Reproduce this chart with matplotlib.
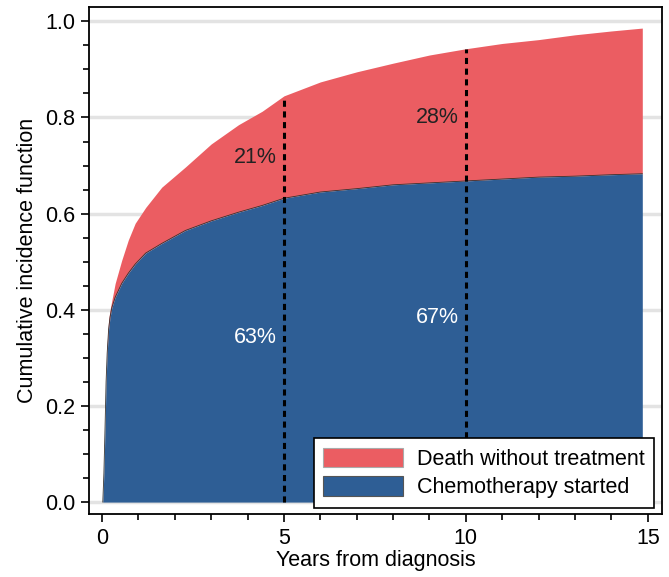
import numpy as np
import matplotlib
matplotlib.use("Agg")
import matplotlib.pyplot as plt
from matplotlib.patches import Patch
from matplotlib.ticker import MultipleLocator

plt.rcParams["font.family"] = ["Liberation Sans", "DejaVu Sans"]

# Cumulative incidence
years = [0.02, 0.05, 0.08, 0.11, 0.14, 0.18, 0.22, 0.27, 0.36, 0.54, 0.72,
         0.91, 1.2, 1.64, 2.29, 3.0, 3.75, 4.4, 5.0, 6.0, 7.0, 8.0, 9.0,
         10.0, 11.0, 12.0, 13.0, 14.0, 14.85]
chemo = [0.0, 0.06, 0.15, 0.25, 0.31, 0.36, 0.385, 0.405, 0.426, 0.455,
         0.476, 0.495, 0.518, 0.538, 0.565, 0.585, 0.603, 0.617, 0.632,
         0.645, 0.652, 0.66, 0.664, 0.668, 0.672, 0.676, 0.678, 0.681, 0.683]
total = [0.0, 0.06, 0.15, 0.26, 0.33, 0.38, 0.40, 0.42, 0.455, 0.503, 0.545,
         0.58, 0.613, 0.655, 0.697, 0.745, 0.785, 0.813, 0.845, 0.874, 0.895,
         0.913, 0.93, 0.943, 0.954, 0.962, 0.972, 0.98, 0.986]

mark_years = [5, 10]
mark_tops = [0.845, 0.943]
death_labels = ["21%", "28%"]
death_label_y = [0.717, 0.80]
chemo_labels = ["63%", "67%"]
chemo_label_y = [0.343, 0.383]

BLUE = "#2e5e95"
RED = "#eb5d62"
FS = 15.5

fig = plt.figure(figsize=(6.69, 5.77), dpi=100)
ax = fig.add_axes([0.133, 0.109, 0.857, 0.879])

ax.fill_between(years, chemo, total, color=RED, lw=0, zorder=2)
ax.fill_between(years, 0, chemo, color=BLUE, lw=0, zorder=3)
ax.plot(years, chemo, color="#333333", lw=0.6, zorder=4)

for x, top in zip(mark_years, mark_tops):
    ax.plot([x, x], [0, top], color="black", ls=(0, (2, 1.5)), lw=2.2, zorder=5)

for x, lab, y in zip(mark_years, death_labels, death_label_y):
    ax.text(x - 0.2, y, lab, ha="right", va="center", fontsize=FS,
            color="#222222", zorder=6)
for x, lab, y in zip(mark_years, chemo_labels, chemo_label_y):
    ax.text(x - 0.2, y, lab, ha="right", va="center", fontsize=FS,
            color="white", zorder=6)

ax.set_xlim(-0.36, 15.4)
ax.set_ylim(-0.025, 1.03)
ax.xaxis.set_major_locator(MultipleLocator(5))
ax.xaxis.set_minor_locator(MultipleLocator(1))
ax.yaxis.set_minor_locator(MultipleLocator(0.05))
ax.set_yticks(np.arange(0, 1.01, 0.2))
ax.set_yticklabels([f"{v:.1f}" for v in np.arange(0, 1.01, 0.2)])
ax.tick_params(which="major", length=6, width=1.2, labelsize=FS, pad=4)
ax.tick_params(which="minor", length=4, width=1.2)
ax.grid(axis="y", which="major", color="#e3e3e3", lw=2.5, zorder=0)
ax.set_axisbelow(True)
for s in ax.spines.values():
    s.set_linewidth(1.3)

ax.set_xlabel("Years from diagnosis", fontsize=FS, labelpad=1)
ax.set_ylabel("Cumulative incidence function", fontsize=FS, labelpad=5)

handles = [Patch(facecolor=RED, edgecolor="#aaaaaa", lw=0.8),
           Patch(facecolor=BLUE, edgecolor="#555555", lw=0.8)]
leg = ax.legend(handles, ["Death without treatment", "Chemotherapy started"],
                loc="lower right", bbox_to_anchor=(0.986, 0.012),
                fontsize=FS, frameon=True, fancybox=False,
                edgecolor="black", framealpha=1, handlelength=3.7,
                handleheight=1.0, borderaxespad=0, labelspacing=0.3,
                borderpad=0.45, handletextpad=0.65)
leg.get_frame().set_linewidth(1.2)
leg.set_zorder(10)

fig.savefig("out.png", dpi=100)
